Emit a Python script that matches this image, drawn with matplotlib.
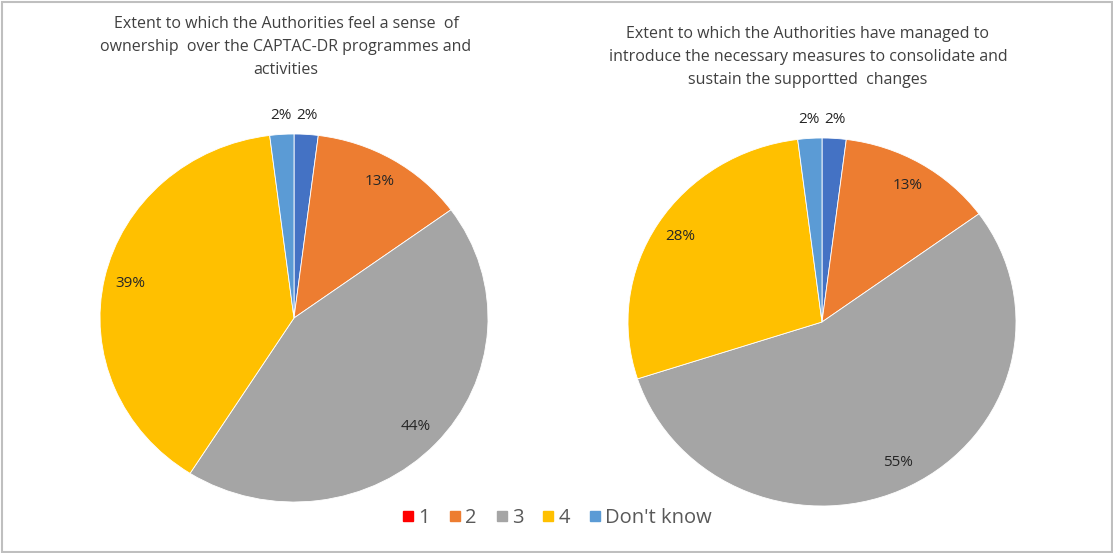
import numpy as np
import matplotlib
matplotlib.use('Agg')
import matplotlib.pyplot as plt
from matplotlib.patches import Rectangle
from matplotlib.lines import Line2D

plt.rcParams['font.family'] = ['Open Sans', 'DejaVu Sans']

categories = ['1', '2', '3', '4', "Don't know"]
ownership = [2, 13, 44, 39, 2]
measures = [2, 13, 55, 28, 2]

title_left = 'Extent to which the Authorities feel a sense  of\nownership  over the CAPTAC-DR programmes and\nactivities'
title_right = 'Extent to which the Authorities have managed to\nintroduce the necessary measures to consolidate and\nsustain the supportted  changes'

# slice colours as drawn, legend colours as shown in the key
pie_colors = ['#4472C4', '#ED7D31', '#A5A5A5', '#FFC000', '#5B9BD5']
legend_colors = ['#FF0000', '#ED7D31', '#A5A5A5', '#FFC000', '#5B9BD5']
label_dist = [1.10, 0.865, 0.86, 0.865, 1.10]

W, H = 1113, 553
fig = plt.figure(figsize=(W / 100, H / 100), dpi=100)


def draw_pie(vals, cx, cy, rx, ry):
    ax = fig.add_axes([(cx - rx) / W, (H - cy - ry) / H, 2 * rx / W, 2 * ry / H])
    wedges, _ = ax.pie(vals, colors=pie_colors, startangle=90, counterclock=False,
                       wedgeprops=dict(edgecolor='white', linewidth=0.6))
    ax.set_aspect('auto')
    ax.set_xlim(-1, 1)
    ax.set_ylim(-1, 1)
    for w, v, d in zip(wedges, vals, label_dist):
        a = np.deg2rad((w.theta1 + w.theta2) / 2)
        ax.text(d * np.cos(a), d * np.sin(a), f'{v}%', ha='center', va='center',
                fontsize=11, color='#262626')
    return ax


draw_pie(ownership, 294, 318, 194, 184)
draw_pie(measures, 822, 322, 194, 184)

fig.text(286 / W, 1 - 47 / H, title_left, ha='center', va='center', fontsize=11.5,
         color='#404040', linespacing=1.6)
fig.text(808 / W, 1 - 57 / H, title_right, ha='center', va='center', fontsize=11.5,
         color='#404040', linespacing=1.6)

handles = [Line2D([], [], marker='s', linestyle='', markersize=6.5, color=c) for c in legend_colors]
fig.legend(handles, categories, loc='center', bbox_to_anchor=(555 / W, 1 - 518 / H), ncol=5,
           frameon=False, fontsize=14.5, handletextpad=0.0, columnspacing=0.75,
           labelcolor='#595959', handlelength=1.0)

fig.patches.append(Rectangle((2 / W, 1.5 / H), (W - 3.5) / W, (H - 3.5) / H, transform=fig.transFigure,
                             fill=False, edgecolor='#BFBFBF', linewidth=1.5))

plt.savefig('out.png', dpi=100)
